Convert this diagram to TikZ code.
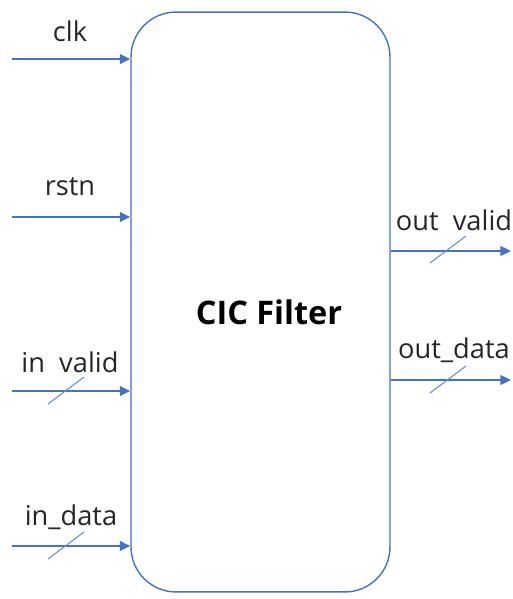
\documentclass[tikz,border=0pt]{standalone}
\usepackage{fontspec}
\setmainfont{Open Sans}
\usetikzlibrary{arrows.meta, positioning}
\definecolor{sigblue}{RGB}{68,114,196}
\begin{document}
\begin{tikzpicture}[
      x=0.02cm, y=-0.02cm,
      font=\fontsize{15.5}{18}\selectfont,
      block/.style={draw=sigblue, line width=0.8pt, rounded corners=0.9cm,
        minimum width=5.18cm, minimum height=11.6cm, inner sep=0pt},
      title/.style={font=\fontsize{18.5}{22}\selectfont\bfseries, inner sep=0pt},
      sig/.style={-{Triangle[length=6pt, width=5.5pt]}, line width=1.1pt, sigblue},
      bus/.style={sigblue!80, line width=0.6pt},
      lab/.style={text=black!85, inner sep=0pt}
    ]
    \useasboundingbox (0,0) rectangle (512,599);
    \node[block] at (260.5,302) (filter) {};
    \node[title] at (269,312) (name) {CIC Filter};

    % inputs
    \coordinate (clkin) at (12,59);
    \coordinate (rstnin) at (12,217);
    \coordinate (vin) at (12,391);
    \coordinate (din) at (12,546);
    \draw[sig] (clkin) -- (clkin -| filter.west);
    \draw[sig] (rstnin) -- (rstnin -| filter.west);
    \draw[sig] (vin) -- (vin -| filter.west);
    \draw[sig] (din) -- (din -| filter.west);
    \node[lab] at (70,31) (clk) {clk};
    \node[lab] at (70,187) (rstn) {rstn};
    \node[lab] at (70,362) (invalid) {in\ \ valid};
    \node[lab] at (71,517) (indata) {in\_data};

    % outputs
    \coordinate (vout) at (511,251);
    \coordinate (dout) at (511,380);
    \draw[sig] (vout -| filter.east) -- (vout);
    \draw[sig] (dout -| filter.east) -- (dout);
    \node[lab] at (454,220) (outvalid) {out\ \ valid};
    \node[lab] at (454,350) (outdata) {out\_data};

    % bus marks
    \coordinate (vinbus) at (66,391);
    \coordinate (dinbus) at (66,546);
    \coordinate (voutbus) at (448,250);
    \coordinate (doutbus) at (448,380);
    \foreach \b in {vinbus, dinbus, voutbus, doutbus}
      \draw[bus] ([shift={(-18,13)}]\b) -- ([shift={(18,-14)}]\b);
  \end{tikzpicture}
\end{document}
